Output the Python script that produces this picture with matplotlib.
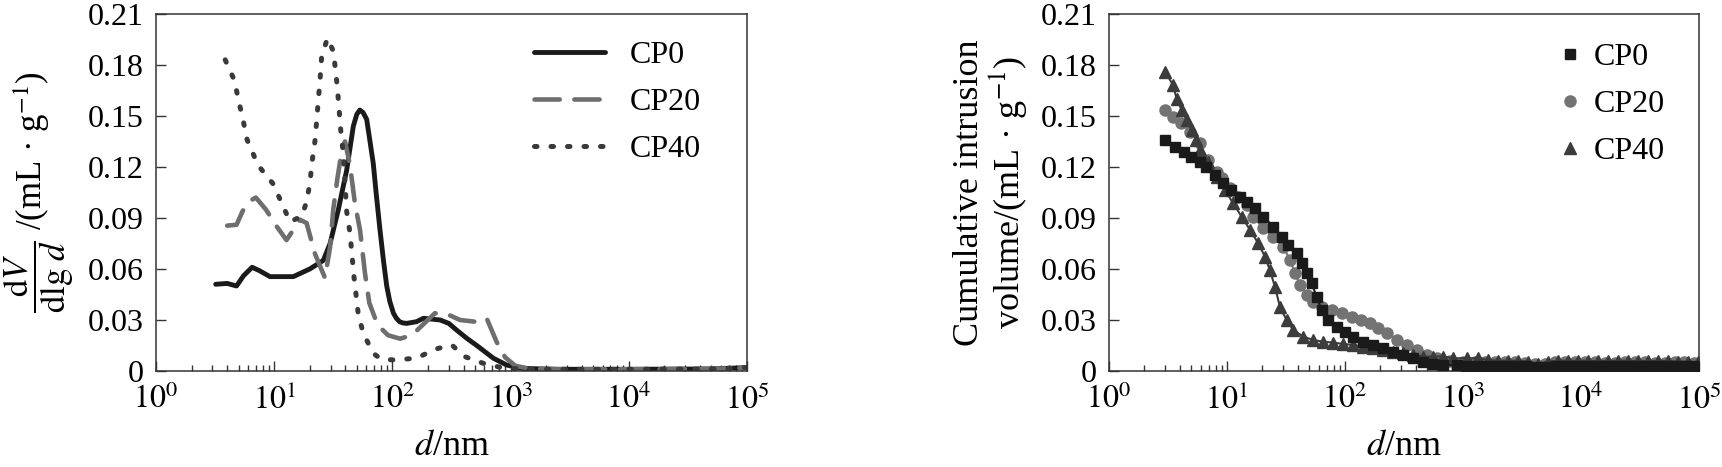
import matplotlib
matplotlib.use("Agg")
import matplotlib.pyplot as plt
from matplotlib.ticker import LogLocator, NullFormatter

# ---- left panel: dV/dlg d ----
d_cp0 = [3.2, 4.0, 4.8, 5.5, 6.5, 7.5, 9.2, 12, 14.5, 20, 26, 29.7, 34.9, 41, 46.7, 50, 53,
         56.5, 60.6, 64, 68.9, 73, 78.5, 84, 89.5, 95, 102, 108, 115, 122, 132, 160, 183, 253,
         300, 350, 430, 517, 715, 927, 1250, 2500, 10000, 50000, 100000]
v_cp0 = [0.051, 0.0515, 0.050, 0.056, 0.061, 0.059, 0.0555, 0.0555, 0.0555, 0.060, 0.065,
         0.075, 0.095, 0.118, 0.144, 0.151, 0.1535, 0.152, 0.148, 0.137, 0.122, 0.104, 0.083,
         0.065, 0.050, 0.041, 0.034, 0.031, 0.029, 0.0283, 0.028, 0.029, 0.031, 0.030, 0.028,
         0.024, 0.019, 0.015, 0.0075, 0.0035, 0.0015, 0.001, 0.001, 0.0012, 0.002]

d_cp20 = [4.0, 4.8, 5.4, 6.2, 7.0, 8.5, 10.5, 12.7, 14.5, 16.5, 18.8, 22.1, 26.9, 29.7, 31.6,
          34.2, 37, 39.7, 43.8, 48.3, 53.2, 58.6, 63.8, 75, 92, 116, 146, 229, 300, 373, 500,
          627, 763, 900, 1100, 1500, 3000, 10000, 50000, 100000]
v_cp20 = [0.0855, 0.086, 0.094, 0.100, 0.102, 0.095, 0.085, 0.077, 0.083, 0.089, 0.087, 0.069,
          0.0547, 0.073, 0.095, 0.113, 0.128, 0.135, 0.121, 0.098, 0.083, 0.0575, 0.040, 0.027,
          0.021, 0.019, 0.021, 0.034, 0.033, 0.030, 0.029, 0.031, 0.017, 0.008, 0.003, 0.0012,
          0.001, 0.001, 0.0012, 0.002]

d_cp40 = [3.85, 4.6, 5.0, 5.4, 5.9, 7.3, 9.8, 11.6, 13.6, 17.1, 18.8, 20.1, 20.8, 22.1, 22.9,
          23.6, 24.4, 25.2, 28.2, 31.7, 34.2, 36.5, 38.4, 41, 43.8, 47.3, 51.5, 56.8, 68.9, 80,
          102, 160, 229, 318, 411, 588, 900, 2000, 10000, 50000, 100000]
v_cp40 = [0.183, 0.171, 0.159, 0.149, 0.136, 0.121, 0.110, 0.0986, 0.0878, 0.091, 0.0996,
          0.111, 0.122, 0.135, 0.1476, 0.159, 0.171, 0.185, 0.1957, 0.188, 0.167, 0.142, 0.128,
          0.094, 0.081, 0.0555, 0.033, 0.022, 0.0104, 0.007, 0.0065, 0.0075, 0.0128, 0.0153,
          0.0084, 0.0045, 0.0015, 0.001, 0.001, 0.0012, 0.002]

# ---- right panel: cumulative intrusion ----
c_d_cp0 = [2.98, 3.6, 4.3, 5.0, 5.9, 6.7, 7.9, 9.3, 10.9, 12.9, 14.7, 17.3, 20.3, 24.7, 29.1,
           33.1, 38.9, 42.9, 47.3, 52.2, 57.5, 63.4, 72.2, 85, 100, 118, 143, 174, 211, 257,
           312, 379, 461, 561, 681, 883, 1070, 1300, 1580, 1920, 2330, 2830, 3440, 4180, 5080,
           6170, 7500, 9100, 11060, 13440, 16330, 19840, 24100, 29300, 35600, 43200, 52500,
           63800, 77500, 94200]
c_v_cp0 = [0.1359, 0.132, 0.129, 0.126, 0.123, 0.120, 0.1153, 0.1104, 0.1065, 0.1025, 0.0996,
           0.0957, 0.0908, 0.0849, 0.079, 0.0741, 0.0692, 0.0634, 0.0575, 0.0516, 0.0437,
           0.0359, 0.030, 0.0261, 0.0231, 0.0202, 0.0172, 0.0153, 0.0133, 0.0114, 0.0094,
           0.0075, 0.0055, 0.0041, 0.0035, 0.0033, 0.0032, 0.0031, 0.003, 0.003, 0.003, 0.003,
           0.0028, 0.0022, 0.0022, 0.003, 0.003, 0.003, 0.0032, 0.0032, 0.0032, 0.003, 0.003,
           0.003, 0.0032, 0.0032, 0.003, 0.003, 0.003, 0.003]

c_d_cp20 = [2.98, 3.5, 4.1, 4.9, 5.9, 6.9, 8.2, 9.0, 10.6, 12.5, 14.7, 16.7, 20.3, 24.7, 30,
            34.2, 37.7, 41.6, 47.3, 54, 63.4, 77.1, 93.7, 114, 138, 163, 191, 225, 274, 333,
            405, 492, 598, 776, 1006, 1264, 1540, 1870, 2270, 2760, 3350, 4070, 4950, 6010,
            7300, 8870, 10780, 13100, 15900, 19300, 23500, 28500, 34600, 42100, 51100, 62100,
            75400, 91600]
c_v_cp20 = [0.1535, 0.1496, 0.1457, 0.1408, 0.134, 0.124, 0.1172, 0.1133, 0.1075, 0.1025,
            0.0976, 0.0908, 0.0839, 0.079, 0.0731, 0.0653, 0.0575, 0.0506, 0.0447, 0.0408,
            0.0378, 0.0359, 0.0339, 0.0319, 0.030, 0.028, 0.0251, 0.0222, 0.0182, 0.0153,
            0.0124, 0.0094, 0.0075, 0.0061, 0.0055, 0.0055, 0.0052, 0.005, 0.005, 0.005, 0.0048,
            0.0042, 0.0042, 0.005, 0.005, 0.005, 0.005, 0.005, 0.0048, 0.0048, 0.005, 0.005,
            0.005, 0.0048, 0.0048, 0.005, 0.005, 0.0045]

c_d_cp40 = [3.0, 3.5, 3.75, 4.13, 4.55, 5.02, 5.5, 5.9, 6.9, 8.2, 9.6, 11.3, 13.3, 15.7, 18.4,
            21, 23.1, 25.5, 28.1, 32, 36.5, 44.4, 54, 65.5, 79.6, 96.8, 118, 143, 174, 211,
            257, 312, 379, 461, 561, 681, 828, 1074, 1349, 1640, 1990, 2420, 2940, 3570, 4340,
            5270, 6400, 7780, 9450, 11480, 13950, 16950, 20600, 25000, 30400, 36900, 44800,
            54500, 66200, 80400, 97700]
c_v_cp40 = [0.176, 0.168, 0.160, 0.1535, 0.1476, 0.1418, 0.136, 0.130, 0.123, 0.1143, 0.1065,
            0.0986, 0.0908, 0.083, 0.0751, 0.0672, 0.0594, 0.0496, 0.0378, 0.030, 0.0241,
            0.0202, 0.0182, 0.0172, 0.0167, 0.0159, 0.0153, 0.0143, 0.0133, 0.0124, 0.0114,
            0.0104, 0.0094, 0.0085, 0.0085, 0.0085, 0.0075, 0.0075, 0.0075, 0.0065, 0.006,
            0.006, 0.006, 0.0055, 0.004, 0.0055, 0.006, 0.006, 0.006, 0.006, 0.0058, 0.0058,
            0.006, 0.006, 0.0058, 0.0058, 0.006, 0.0058, 0.0055, 0.0055, 0.005]

names = ["CP0", "CP20", "CP40"]
yticks = [0, 0.03, 0.06, 0.09, 0.12, 0.15, 0.18, 0.21]
ytick_labels = ["0", "0.03", "0.06", "0.09", "0.12", "0.15", "0.18", "0.21"]
xticks = [1, 10, 100, 1000, 10000, 100000]
xtick_labels = [r"$10^{%d}$" % i for i in range(6)]

plt.rcParams["font.family"] = ["Liberation Serif", "DejaVu Serif"]
plt.rcParams["mathtext.fontset"] = "stix"
plt.rcParams["font.size"] = 23


def style_axes(ax):
    ax.set_xscale("log")
    ax.set_xlim(1, 1e5)
    ax.set_ylim(0, 0.21)
    ax.set_yticks(yticks)
    ax.set_yticklabels(ytick_labels)
    ax.set_xticks(xticks)
    ax.set_xticklabels(xtick_labels)
    ax.xaxis.set_minor_locator(LogLocator(base=10, subs=range(2, 10), numticks=20))
    ax.xaxis.set_minor_formatter(NullFormatter())
    ax.tick_params(which="both", direction="in", top=False, right=False, color="#333333")
    ax.tick_params(which="major", length=7, width=1, labelsize=23)
    ax.tick_params(axis="y", which="major", pad=9)
    ax.tick_params(axis="x", which="major", pad=10)
    ax.tick_params(which="minor", length=4, width=1)
    for s in ax.spines.values():
        s.set_linewidth(1.1)
        s.set_color("#333333")
    ax.set_xlabel(r"$d$/nm", fontsize=26, labelpad=10)


fig = plt.figure(figsize=(17.22, 4.67), dpi=100)

ax1 = fig.add_axes([0.0906, 0.2056, 0.3432, 0.7645])
ax1.plot(d_cp0, v_cp0, color="#1a1a1a", lw=3.5, label=names[0], solid_capstyle="round",
         solid_joinstyle="round")
ax1.plot(d_cp20, v_cp20, color="#6e6e6e", lw=3.3, dashes=(5.5, 3.2), label=names[1],
         dash_capstyle="round")
ax1.plot(d_cp40, v_cp40, color="#3a3a3a", lw=3.6, dashes=(0.5, 2.8), label=names[2],
         dash_capstyle="round")
style_axes(ax1)
ax1.set_ylabel(r"$\dfrac{\mathrm{d}V}{\mathrm{dlg}\ d}$ /(mL · g$^{-1}$)", fontsize=25,
               labelpad=8)
ax1.legend(loc="upper left", bbox_to_anchor=(0.64, 0.925), frameon=False, fontsize=23,
           handlelength=2.2, handletextpad=0.8, labelspacing=0.55, borderpad=0,
           borderaxespad=0)

ax2 = fig.add_axes([0.644, 0.2056, 0.3426, 0.7645])
ax2.plot(c_d_cp20, c_v_cp20, color="#737373", lw=1.5, marker="o", ms=8, label=names[1],
         zorder=2)
ax2.plot(c_d_cp40, c_v_cp40, color="#3c3c3c", lw=1.5, marker="^", ms=8, label=names[2],
         zorder=3)
ax2.plot(c_d_cp0, c_v_cp0, color="#1a1a1a", lw=1.5, marker="s", ms=7, label=names[0],
         zorder=4)
style_axes(ax2)
ax2.set_ylabel("Cumulative intrusion\nvolume/(mL · g$^{-1}$)", fontsize=26, labelpad=8,
               linespacing=1.0)
h, l = ax2.get_legend_handles_labels()
order = [2, 0, 1]
ax2.legend([h[i] for i in order], [l[i] for i in order], loc="upper left",
           bbox_to_anchor=(0.765, 0.92), frameon=False, fontsize=23, handlelength=0.6,
           handletextpad=0.45, labelspacing=0.55, borderpad=0, borderaxespad=0)
for hd in ax2.get_legend().legend_handles:
    hd.set_linestyle("none")

fig.savefig("out.png", dpi=100)
